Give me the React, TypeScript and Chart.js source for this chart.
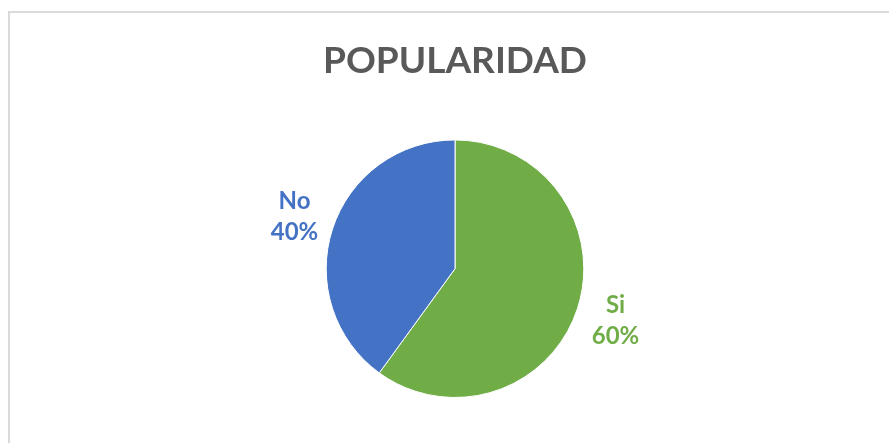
import React, { useEffect, useRef } from "react";
import { Chart, registerables } from "chart.js";

Chart.register(...registerables);

const categories = ["Si", "No"];
const values = [60, 40];
const sliceColors = ["#70AD47", "#4472C4"];
const chartTitle = "POPULARIDAD";

const outsideLabels = {
  id: "outsideLabels",
  afterDatasetsDraw(chart: any) {
    const ctx = chart.ctx;
    const meta = chart.getDatasetMeta(0);
    const data = chart.data.datasets[0].data as number[];
    const total = data.reduce((a, b) => a + b, 0);
    ctx.save();
    ctx.font = "bold 24px Lato";
    ctx.textAlign = "center";
    ctx.textBaseline = "middle";
    meta.data.forEach((arc: any, i: number) => {
      const p = arc.getProps(["x", "y", "startAngle", "endAngle", "outerRadius"], true);
      const mid = (p.startAngle + p.endAngle) / 2;
      const r = p.outerRadius + 40;
      const cx = p.x + Math.cos(mid) * r;
      const cy = p.y + Math.sin(mid) * r;
      ctx.fillStyle = sliceColors[i];
      ctx.fillText(String(chart.data.labels[i]), cx, cy - 15.5);
      ctx.fillText(Math.round((data[i] / total) * 100) + "%", cx, cy + 15.5);
    });
    ctx.restore();
  },
};

export default function App() {
  const ref = useRef<HTMLCanvasElement>(null);
  useEffect(() => {
    if (!ref.current) return;
    const chart = new Chart(ref.current, {
      type: "pie",
      data: {
        labels: categories,
        datasets: [
          {
            data: values,
            backgroundColor: sliceColors,
            borderColor: "#ffffff",
            borderWidth: 1,
          },
        ],
      },
      options: {
        responsive: false,
        animation: false,
        layout: { padding: { top: 0, bottom: 45, left: 21, right: 0 } },
        plugins: {
          legend: { display: false },
          tooltip: { enabled: false },
          title: {
            display: true,
            text: chartTitle,
            color: "#595959",
            font: { family: "Lato", size: 37, weight: "bold", lineHeight: 1.2 },
            padding: { top: 39, bottom: 56 },
          },
        },
      },
      plugins: [outsideLabels],
    });
    return () => chart.destroy();
  }, []);
  return (
    <>
      <div
        style={{
          position: "fixed",
          left: 8,
          top: 11,
          width: 881,
          height: 432,
          boxSizing: "border-box",
          borderTop: "2px solid #D9D9D9",
          borderLeft: "2px solid #D9D9D9",
        }}
      />
      <canvas
        ref={ref}
        width={889}
        height={443}
        style={{ position: "fixed", left: 0, top: 0, width: 889, height: 443 }}
      />
    </>
  );
}
